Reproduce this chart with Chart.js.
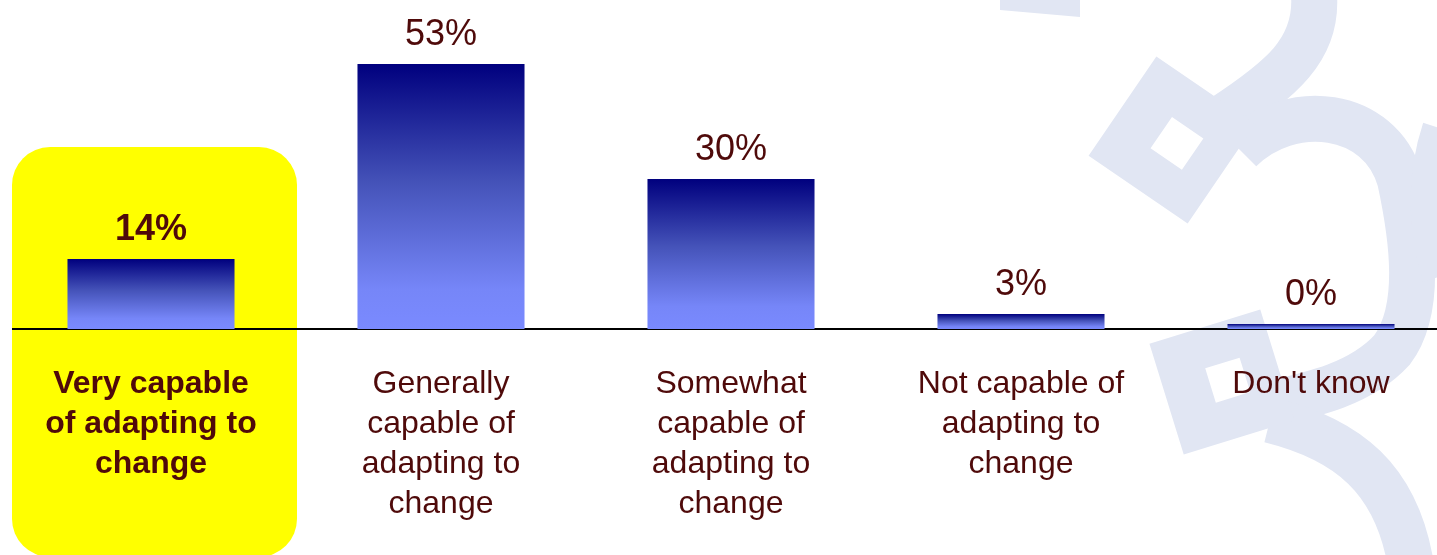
<!DOCTYPE html>
<html>
<head>
<meta charset="utf-8">
<script src="https://cdn.jsdelivr.net/npm/chart.js@4.4.1/dist/chart.umd.min.js"></script>
<style>
  html, body { margin: 0; padding: 0; background: #fff; }
  #wrap { width: 1437px; height: 555px; position: relative; }
</style>
</head>
<body>
<div id="wrap"><canvas id="chart"></canvas></div>
<script>
var categories = [
  ["Very capable", "of adapting to", "change"],
  ["Generally", "capable of", "adapting to", "change"],
  ["Somewhat", "capable of", "adapting to", "change"],
  ["Not capable of", "adapting to", "change"],
  ["Don't know"]
];
var values = [14, 53, 30, 3, 0];
var valueLabels = ["14%", "53%", "30%", "3%", "0%"];
var highlightIndex = 0;

var textColor = '#4f0a0a';

function barGradient(c) {
  const chart = c.chart;
  const area = chart.chartArea;
  if (!area) return '#4a58c0';
  const y = chart.scales.y;
  const base = y.getPixelForValue(0);
  const top = Math.min(y.getPixelForValue(c.raw), base - 5);
  const g = chart.ctx.createLinearGradient(0, top, 0, base);
  g.addColorStop(0, '#00007e');
  g.addColorStop(0.45, '#4553b9');
  g.addColorStop(0.85, '#7686f8');
  g.addColorStop(1, '#7a8aff');
  return g;
}

function diamond(ctx, cx, cy, half, angle, hole) {
  ctx.save();
  ctx.translate(cx, cy);
  ctx.rotate(angle);
  ctx.beginPath();
  ctx.rect(-half, -half, half * 2, half * 2);
  ctx.rect(-hole + 6, -hole, hole * 2, hole * 2);
  ctx.fill('evenodd');
  ctx.restore();
}

// light decorative shapes in the background
var watermark = {
  id: 'watermark',
  beforeDraw(chart) {
    const ctx = chart.ctx;
    ctx.save();
    ctx.fillStyle = '#e1e6f3';
    ctx.strokeStyle = '#e1e6f3';
    ctx.lineWidth = 46;
    ctx.lineCap = 'butt';

    ctx.beginPath();
    ctx.moveTo(1000, 0); ctx.lineTo(1080, 0); ctx.lineTo(1080, 17); ctx.lineTo(1000, 10);
    ctx.fill();

    ctx.beginPath();
    ctx.moveTo(1314, -5);
    ctx.bezierCurveTo(1318, 50, 1280, 80, 1222, 118);
    ctx.stroke();

    ctx.beginPath();
    ctx.moveTo(1240, 150);
    ctx.bezierCurveTo(1290, 100, 1380, 110, 1400, 180);
    ctx.bezierCurveTo(1413, 240, 1422, 310, 1392, 350);
    ctx.bezierCurveTo(1360, 385, 1310, 395, 1265, 405);
    ctx.stroke();

    ctx.beginPath();
    ctx.moveTo(1270, 420);
    ctx.bezierCurveTo(1350, 440, 1395, 480, 1410, 560);
    ctx.stroke();

    ctx.beginPath();
    ctx.moveTo(1445, 130);
    ctx.quadraticCurveTo(1422, 200, 1445, 275);
    ctx.stroke();

    diamond(ctx, 1172, 140, 60, 0.6, 19);
    diamond(ctx, 1222, 382, 58, -0.3, 18);
    ctx.restore();

    // yellow highlight behind the first category
    const x = chart.scales.x.getPixelForValue(highlightIndex);
    ctx.save();
    ctx.fillStyle = '#ffff00';
    ctx.beginPath();
    ctx.roundRect(x - 139, 147, 285, 410, 38);
    ctx.fill();
    ctx.restore();
  },
  beforeDatasetsDraw(chart) {
    const ctx = chart.ctx;
    const base = chart.scales.y.getPixelForValue(0);
    ctx.save();
    ctx.strokeStyle = '#000';
    ctx.lineWidth = 2;
    ctx.beginPath();
    ctx.moveTo(12, base);
    ctx.lineTo(chart.width, base);
    ctx.stroke();
    ctx.restore();
  },
  afterDatasetsDraw(chart) {
    const ctx = chart.ctx;
    const meta = chart.getDatasetMeta(0);
    ctx.save();
    ctx.fillStyle = textColor;
    ctx.textAlign = 'center';
    ctx.textBaseline = 'alphabetic';
    meta.data.forEach(function (bar, i) {
      ctx.font = (i === highlightIndex ? 'bold ' : '') + '36px "Liberation Sans", Arial, sans-serif';
      ctx.fillText(valueLabels[i], bar.x, bar.y - 19);
    });
    ctx.restore();
  }
};

new Chart(document.getElementById('chart'), {
  type: 'bar',
  data: {
    labels: categories,
    datasets: [{
      data: values,
      backgroundColor: barGradient,
      borderWidth: 0,
      minBarLength: 5,
      clip: false,
      categoryPercentage: 1,
      barPercentage: 0.576
    }]
  },
  options: {
    responsive: true,
    maintainAspectRatio: false,
    animation: false,
    layout: { padding: { left: 151, right: 126, top: 29, bottom: 31 } },
    plugins: {
      legend: { display: false },
      tooltip: { enabled: false }
    },
    scales: {
      x: {
        offset: false,
        grid: { display: false, drawTicks: false },
        border: { display: false },
        afterFit: function (scale) { scale.height = 195; },
        ticks: {
          padding: 35,
          autoSkip: false,
          maxRotation: 0,
          color: textColor,
          font: function (c) {
            return {
              family: '"Liberation Sans Narrow", "Arial Narrow", "Liberation Sans", sans-serif',
              size: 32,
              lineHeight: 40 / 32,
              weight: c.index === highlightIndex ? 'bold' : 'normal'
            };
          }
        }
      },
      y: {
        display: false,
        min: 0,
        max: 60
      }
    }
  },
  plugins: [watermark]
});
</script>
</body>
</html>
